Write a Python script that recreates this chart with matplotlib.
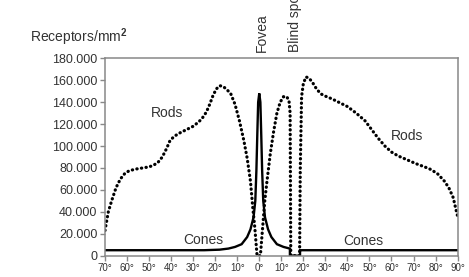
import matplotlib
matplotlib.use('Agg')
import matplotlib.pyplot as plt
import matplotlib.transforms as mtransforms

plt.rcParams['font.family'] = ['Liberation Sans', 'DejaVu Sans']
plt.rcParams['mathtext.fontset'] = 'custom'
plt.rcParams['mathtext.rm'] = 'Liberation Sans'
plt.rcParams['mathtext.bf'] = 'Liberation Sans:bold'

# rods density (thousands / mm2)
rod_deg = [-70, -68.5, -67, -65, -63, -61, -59, -56, -53, -50, -48, -46, -44, -42,
           -40.5, -38.5, -36, -33, -30, -27.5, -26, -24, -22.5, -21, -19.5, -18,
           -16.5, -15, -13, -11, -9, -7, -5.5, -4, -3, -2, -1,
           0.5, 1.5, 2.5, 3.5, 5, 6.5, 8, 9.5, 11, 12.5, 13.5, 14, 14.3,
           18.3, 18.6, 19.2, 20, 21.2, 22.5, 24, 26, 28, 30, 33, 36, 40, 44, 48,
           51, 54, 57, 60, 63, 67, 71, 75, 78, 81, 84, 86, 88, 89.5, 90]
rod_val = [23, 40, 50, 62, 70, 75, 77.5, 79, 80, 81, 82.5, 85, 90, 98,
           105, 109, 112, 115, 118, 122, 125, 131, 138, 146, 152, 155,
           154.5, 152, 148, 138, 123, 105, 89, 68, 45, 25, 0,
           0, 25, 50, 68, 93, 113, 130, 140, 145, 145, 141, 130, 0,
           0, 78, 145, 157, 163, 162, 158.5, 152, 147.5, 145.5, 143, 140, 136, 130, 123,
           115, 107, 100, 94.5, 91, 87.5, 84, 81, 78.5, 74.5, 68, 62, 53, 40, 36]

# cones density (thousands / mm2)
cone_deg = [-70, -25, -18, -14, -11, -8, -5.5, -4, -2.6, -1.8, -1.3, -0.9, -0.5, 0,
            0.5, 0.9, 1.3, 1.8, 2.6, 4, 5.5, 8, 11, 13.9, 13.9, 18.5, 18.5, 90]
cone_val = [5, 5, 5.5, 6.5, 8, 10.5, 17, 24, 35, 50, 78, 110, 140, 148,
            140, 110, 78, 50, 35, 24, 17, 10.5, 8, 6.5, 0, 0, 5, 5]

xticks = [-70, -60, -50, -40, -30, -20, -10, 0, 10, 20, 30, 40, 50, 60, 70, 80, 90]
yticks = [0, 20000, 40000, 60000, 80000, 100000, 120000, 140000, 160000, 180000]

fig = plt.figure(figsize=(4.69, 2.77), dpi=100)
ax = fig.add_axes([0.2239, 0.0769, 0.7518, 0.7126])

ax.plot(cone_deg, [v * 1000 for v in cone_val], color='black', lw=1.7,
        solid_joinstyle='miter')
ax.plot(rod_deg, [v * 1000 for v in rod_val], color='black', lw=2.3,
        linestyle=(0, (0.1, 1.35)), dash_capstyle='round')

ax.set_xlim(-70, 90)
ax.set_ylim(0, 180000)
ax.set_xticks(xticks)
ax.set_xticklabels([str(abs(t)) + '°' for t in xticks], fontsize=7, color='#333333')
ax.set_yticks(yticks)
ax.set_yticklabels(['0' if t == 0 else '{:,}'.format(t).replace(',', '.') for t in yticks],
                   fontsize=9, color='#333333')
ax.tick_params(axis='both', direction='out', length=3.5, width=1, color='#888888', pad=2)
ax.tick_params(axis='x', pad=1.5)
for s in ax.spines.values():
    s.set_color('#888888')
    s.set_linewidth(1.1)

ax.text(-42, 130000, 'Rods', fontsize=10, color='#333333', ha='center', va='center')
ax.text(67, 109000, 'Rods', fontsize=10, color='#333333', ha='center', va='center')
ax.text(-25.5, 14000, 'Cones', fontsize=10, color='#333333', ha='center', va='center')
ax.text(47, 13700, 'Cones', fontsize=10, color='#333333', ha='center', va='center')

trans = mtransforms.blended_transform_factory(ax.transData, ax.transAxes)
ax.text(1, 1.03, 'Fovea', rotation=90, fontsize=10, color='#333333',
        ha='center', va='bottom', transform=trans)
ax.text(16.4, 1.03, 'Blind spot', rotation=90, fontsize=10, color='#333333',
        ha='center', va='bottom', transform=trans)

fig.text(30 / 469, 1 - 37 / 277, r'Receptors/mm$^{\mathbf{2}}$', fontsize=10,
         color='#333333', ha='left', va='center')

fig.savefig('out.png', dpi=100)
